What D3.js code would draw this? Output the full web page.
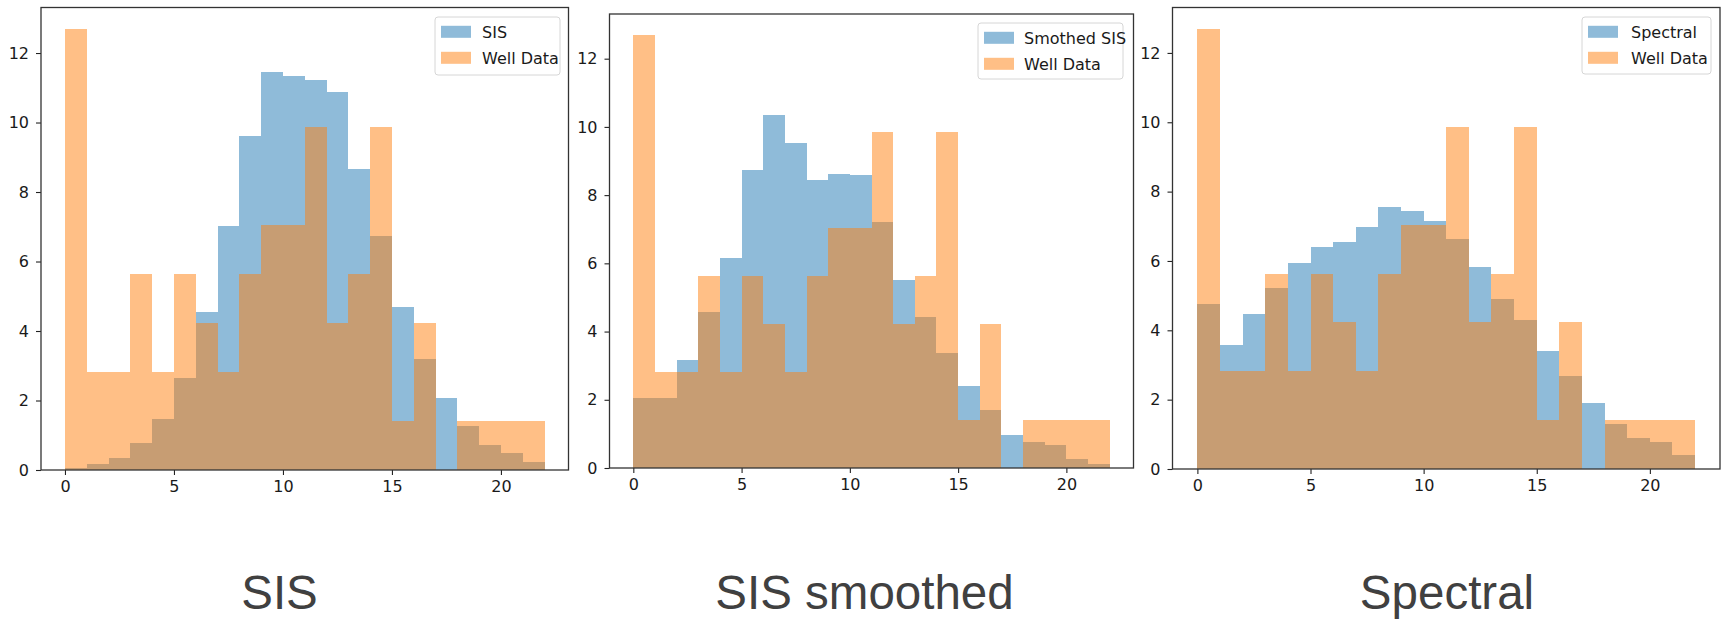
<!DOCTYPE html>
<html>
<head>
<meta charset="utf-8">
<script src="https://cdn.jsdelivr.net/npm/d3@7"></script>
<style>
  body { margin: 0; background: #fff; }
  svg text { font-family: "DejaVu Sans", sans-serif; }
</style>
</head>
<body>
<div class="hist-panels"></div>
<script>
// bin edges shared by all three histograms (width 1, 0..22)
const binEdges = [0, 1, 2, 3, 4, 5, 6, 7, 8, 9, 10, 11, 12, 13, 14, 15, 16, 17, 18, 19, 20, 21, 22];

// percentages per bin
const wellData = [12.68, 2.82, 2.82, 5.63, 2.82, 5.63, 4.23, 2.82, 5.63, 7.04, 7.04,
                  9.86, 4.23, 5.63, 9.86, 1.41, 4.23, 0, 1.41, 1.41, 1.41, 1.41];
const sisData = [0.05, 0.16, 0.35, 0.78, 1.47, 2.66, 4.54, 7.02, 9.62, 11.46, 11.35,
                 11.21, 10.89, 8.65, 6.73, 4.68, 3.19, 2.08, 1.28, 0.71, 0.50, 0.24];
const sisSmoothedData = [2.04, 2.06, 3.16, 4.56, 6.16, 8.74, 10.36, 9.52, 8.43, 8.62, 8.59,
                         7.21, 5.51, 4.42, 3.38, 2.40, 1.71, 0.96, 0.76, 0.67, 0.25, 0.12];
const spectralData = [4.75, 3.59, 4.46, 5.23, 5.94, 6.41, 6.56, 6.99, 7.56, 7.43, 7.14,
                      6.63, 5.83, 4.89, 4.29, 3.41, 2.68, 1.89, 1.31, 0.88, 0.77, 0.41];

const xTicks = [0, 5, 10, 15, 20];
const yTicks = [0, 2, 4, 6, 8, 10, 12];
const seriesNames = ["SIS", "Smothed SIS", "Spectral"];
const wellName = "Well Data";
const captions = ["SIS", "SIS smoothed", "Spectral"];

const W = 1723, H = 621;
const blue = "#1f77b4", orange = "#ff7f0e";

// where each picture sits on the slide
const panels = [
  { series: sisData, left: 41, right: 568.5, top: 7.5, bottom: 470,
    legend: { x: 435, y: 17, w: 125, h: 58, tx: 47 }, capX: 279.5 },
  { series: sisSmoothedData, left: 609.5, right: 1133.5, top: 14, bottom: 468,
    legend: { x: 978, y: 23, w: 145, h: 56, tx: 46 }, capX: 864.5 },
  { series: spectralData, left: 1172.5, right: 1720, top: 7.5, bottom: 469,
    legend: { x: 1582, y: 17, w: 129, h: 57, tx: 49 }, capX: 1447 }
];

const svg = d3.select(".hist-panels")
  .append("svg")
  .attr("width", W)
  .attr("height", H);

const bins = binEdges.slice(0, -1).map((x0, i) => ({ x0: x0, x1: binEdges[i + 1], i: i }));

panels.forEach((p, k) => {
  const x = d3.scaleLinear().domain([-1.1, 23.1]).range([p.left, p.right]);
  const y = d3.scaleLinear().domain([0, 13.31]).range([p.bottom, p.top]);
  const g = svg.append("g");

  const drawBars = (vals, color) => {
    g.append("g").selectAll("rect")
      .data(bins)
      .enter()
      .append("rect")
      .attr("x", d => x(d.x0))
      .attr("width", d => x(d.x1) - x(d.x0))
      .attr("y", d => y(vals[d.i]))
      .attr("height", d => y(0) - y(vals[d.i]))
      .attr("fill", color)
      .attr("fill-opacity", 0.5)
      .attr("shape-rendering", "crispEdges");
  };
  drawBars(p.series, blue);
  drawBars(wellData, orange);

  const xAxis = g.append("g")
    .attr("transform", `translate(0,${p.bottom})`)
    .call(d3.axisBottom(x).tickValues(xTicks).tickSize(5).tickPadding(6));
  const yAxis = g.append("g")
    .attr("transform", `translate(${p.left},0)`)
    .call(d3.axisLeft(y).tickValues(yTicks).tickSize(5).tickPadding(7));
  [xAxis, yAxis].forEach(a => {
    a.select(".domain").remove();
    a.selectAll("line").attr("stroke", "#222").attr("stroke-width", 1.1);
    a.selectAll("text").attr("font-size", 16).attr("fill", "#1a1a1a")
      .style("font-family", "'DejaVu Sans', sans-serif");
  });

  // frame
  g.append("rect")
    .attr("x", p.left).attr("y", p.top)
    .attr("width", p.right - p.left).attr("height", p.bottom - p.top)
    .attr("fill", "none").attr("stroke", "#333").attr("stroke-width", 1.3);

  // legend
  const L = p.legend;
  const lg = g.append("g").attr("transform", `translate(${L.x},${L.y})`);
  lg.append("rect")
    .attr("width", L.w).attr("height", L.h).attr("rx", 3)
    .attr("fill", "#fff").attr("fill-opacity", 0.8)
    .attr("stroke", "#d6d6d6").attr("stroke-width", 1);
  [[seriesNames[k], blue], [wellName, orange]].forEach((e, j) => {
    const cy = 14.8 + j * 26;
    lg.append("rect")
      .attr("x", 6).attr("y", cy - 6).attr("width", 30).attr("height", 12)
      .attr("fill", e[1]).attr("fill-opacity", 0.5);
    lg.append("text")
      .attr("x", L.tx).attr("y", cy).attr("dy", "0.36em")
      .attr("font-size", 16).attr("fill", "#1a1a1a")
      .text(e[0]);
  });

  // slide caption
  svg.append("text")
    .attr("x", p.capX).attr("y", 609)
    .attr("text-anchor", "middle")
    .style("font-family", "'Liberation Sans', Arial, sans-serif")
    .attr("font-size", 47.5)
    .attr("fill", "#404040")
    .text(captions[k]);
});
</script>
</body>
</html>
